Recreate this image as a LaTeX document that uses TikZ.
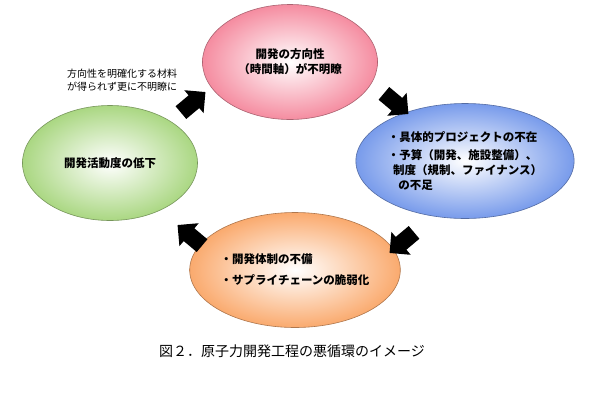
\documentclass[tikz,border=0pt]{standalone}
\usepackage{fontspec}
\setmainfont{Noto Sans CJK JP}
\usetikzlibrary{shapes.arrows,shapes.geometric,shadings}
\tikzset{
  oval/.style={ellipse,draw=#1!70!black,line width=0.6pt,inner color=white,outer color=#1,minimum width=175pt,minimum height=115pt,inner sep=0pt,align=center,font=\bfseries\fontsize{11.5}{15}\selectfont},
  blk/.style={single arrow,fill=black,minimum width=30pt,single arrow head extend=5pt,minimum height=32pt,inner sep=6pt}
}
\definecolor{pk}{RGB}{245,140,160}
\definecolor{bl}{RGB}{120,155,235}
\definecolor{or}{RGB}{250,170,110}
\definecolor{gr}{RGB}{170,215,130}
\begin{document}
\begin{tikzpicture}[x=1pt,y=-1pt]
\useasboundingbox[fill=white] (0,0) rectangle (600,416);
\node[oval=pk] (top) at (290,62) {開発の方向性\\（時間軸）が不明瞭};
\node[oval=bl,align=left] (right) at (465,161) {・具体的プロジェクトの不在\\[3pt]・予算（開発、施設整備）、\\\ \ 制度（規制、ファイナンス）\\\ \ \ \ の不足};
\node[oval=or,align=left] (bot) at (295,270) {・開発体制の不備\\[6pt]・サプライチェーンの脆弱化};
\node[oval=gr] (left) at (110,163) {開発活動度の低下};
\node[blk,rotate=-40] (a1) at (393,101) {};
\node[blk,rotate=-140] (a2) at (405,240) {};
\node[blk,rotate=140] (a3) at (193,238) {};
\node[blk,rotate=40] (a4) at (190,105) {};
\node[align=left,font=\fontsize{10}{13}\selectfont] (note) at (122,80) {方向性を明確化する材料\\が得られず更に不明瞭に};
\node[font=\fontsize{14}{16}\selectfont] (cap) at (292,351) {図２．原子力開発工程の悪循環のイメージ};
\end{tikzpicture}
\end{document}
